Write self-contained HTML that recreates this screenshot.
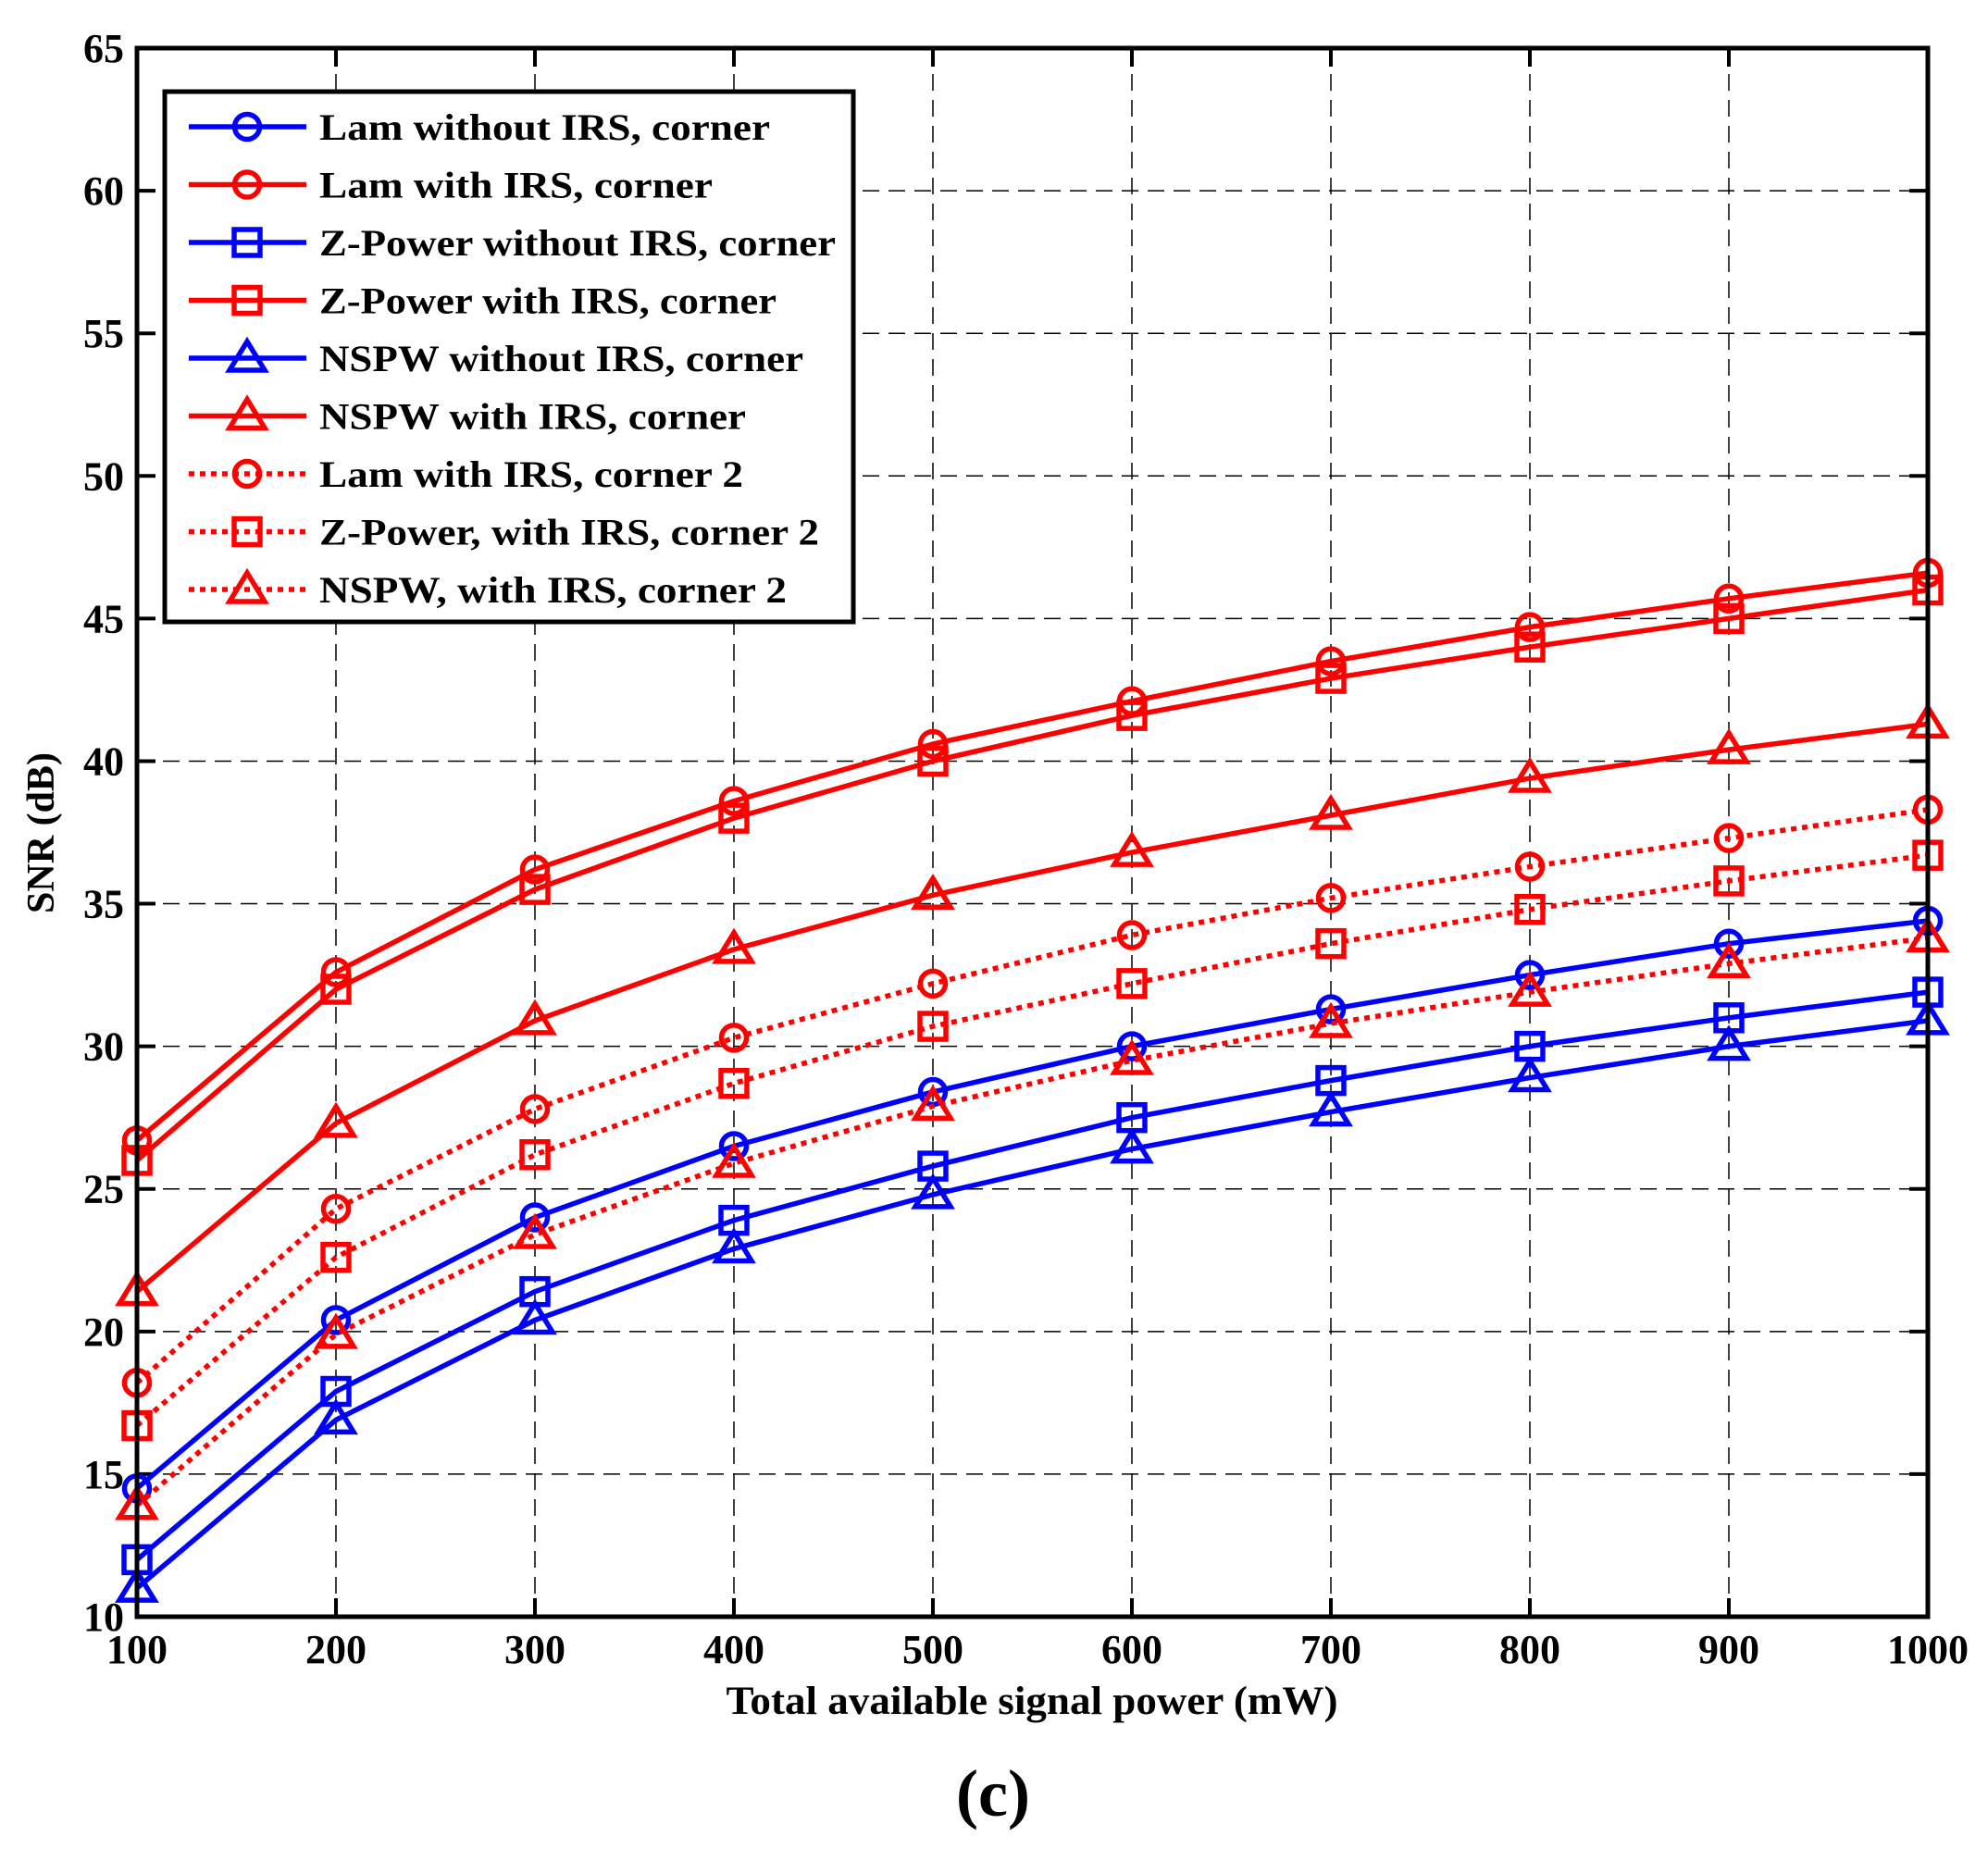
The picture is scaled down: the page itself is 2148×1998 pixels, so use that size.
<!DOCTYPE html>
<html><head><meta charset="utf-8"><style>html,body{margin:0;padding:0;background:#fff}svg{display:block}</style></head>
<body>
<svg id="s" width="2148" height="1998" viewBox="0 0 2148 1998" xmlns="http://www.w3.org/2000/svg" font-family="'Liberation Serif', serif" font-weight="bold">
<g id="grid" stroke="#000" stroke-width="1.5" stroke-dasharray="18,10" fill="none"></g>
<g id="ticks" stroke="#000" stroke-width="4" fill="none"></g>
<g id="series" fill="none"></g>
<rect x="148" y="52" width="1935" height="1695" fill="none" stroke="#000" stroke-width="5"/>
<g id="labels" font-size="44" fill="#000"></g>
<text x="1115" y="1852" font-size="43" text-anchor="middle" textLength="661" lengthAdjust="spacingAndGlyphs">Total available signal power (mW)</text>
<text transform="translate(58,900) rotate(-90)" font-size="42" text-anchor="middle">SNR (dB)</text>
<text x="1073" y="1962" font-size="72" text-anchor="middle" font-weight="bold">(c)</text>
<rect x="178" y="99" width="744" height="573" fill="#fff" stroke="#000" stroke-width="5"/>
<g id="legend" font-size="40" fill="#000"></g>
</svg>
<script>
const NS="http://www.w3.org/2000/svg";
const X=v=>148+(v-100)*2.15, Y=s=>1747-(s-10)*30.818;
function el(p,t,a){const e=document.createElementNS(NS,t);for(const k in a)e.setAttribute(k,a[k]);p.appendChild(e);return e;}
const g=document.getElementById('grid'),tk=document.getElementById('ticks'),lb=document.getElementById('labels');
for(let v=200;v<=900;v+=100){el(g,'line',{x1:X(v),y1:52,x2:X(v),y2:1747});}
for(let s=15;s<=60;s+=5){el(g,'line',{x1:148,y1:Y(s),x2:2083,y2:Y(s)});}
for(let v=100;v<=1000;v+=100){el(tk,'line',{x1:X(v),y1:1747,x2:X(v),y2:1727});el(tk,'line',{x1:X(v),y1:52,x2:X(v),y2:72});
 const t=el(lb,'text',{x:X(v),y:1797,'text-anchor':'middle'});t.textContent=v;}
for(let s=10;s<=65;s+=5){el(tk,'line',{x1:148,y1:Y(s),x2:168,y2:Y(s)});el(tk,'line',{x1:2083,y1:Y(s),x2:2063,y2:Y(s)});
 const t=el(lb,'text',{x:134,y:Y(s)+15,'text-anchor':'end'});t.textContent=s;}
const B='#0000ff',R='#ff0000',W=5.5;
const S=[
['Lam without IRS, corner',B,'o',0,[14.5,20.4,24.0,26.5,28.4,30.0,31.3,32.5,33.6,34.4],487],
['Lam with IRS, corner',R,'o',0,[26.7,32.6,36.2,38.6,40.6,42.1,43.5,44.7,45.7,46.6],425],
['Z-Power without IRS, corner',B,'s',0,[12.0,17.9,21.4,23.9,25.8,27.5,28.8,30.0,31.0,31.9],558],
['Z-Power with IRS, corner',R,'s',0,[26.0,32.0,35.5,38.0,40.0,41.6,42.9,44.0,45.0,46.0],494],
['NSPW without IRS, corner',B,'t',0,[11.0,16.9,20.4,22.9,24.8,26.4,27.7,28.9,30.0,30.9],523],
['NSPW with IRS, corner',R,'t',0,[21.4,27.3,30.9,33.4,35.3,36.8,38.1,39.4,40.4,41.3],461],
['Lam with IRS, corner 2',R,'o',1,[18.2,24.3,27.8,30.3,32.2,33.9,35.2,36.3,37.3,38.3],458],
['Z-Power, with IRS, corner 2',R,'s',1,[16.7,22.6,26.2,28.7,30.7,32.2,33.6,34.8,35.8,36.7],540],
['NSPW, with IRS, corner 2',R,'t',1,[13.9,19.9,23.4,25.9,27.9,29.5,30.8,31.9,32.9,33.8],505]];
function mk(p,type,x,y,c){
 if(type==='o')el(p,'circle',{cx:x,cy:y,r:13.5,stroke:c,'stroke-width':W,fill:'none'});
 else if(type==='s')el(p,'rect',{x:x-14,y:y-14,width:28,height:28,stroke:c,'stroke-width':W,fill:'none'});
 else el(p,'polygon',{points:`${x},${y-18} ${x+19},${y+13} ${x-19},${y+13}`,stroke:c,'stroke-width':W,fill:'none'});
}
const sg=document.getElementById('series'),lg=document.getElementById('legend');
S.forEach((d,i)=>{
 const pts=d[4].map((s,j)=>X(100+100*j)+','+Y(s)).join(' ');
 const a={points:pts,stroke:d[1],'stroke-width':W,fill:'none','stroke-linejoin':'round'};
 if(d[3])a['stroke-dasharray']='6,6';
 el(sg,'polyline',a);
 d[4].forEach((s,j)=>mk(sg,d[2],X(100+100*j),Y(s),d[1]));
 const y=137+62.5*i;
 const la={x1:204,y1:y,x2:331,y2:y,stroke:d[1],'stroke-width':W};
 if(d[3])la['stroke-dasharray']='6,6';
 el(lg,'line',la);mk(lg,d[2],267,y,d[1]);
 const t=el(lg,'text',{x:345,y:y+14,textLength:d[5],lengthAdjust:'spacingAndGlyphs'});t.textContent=d[0];
});
</script>
</body></html>
